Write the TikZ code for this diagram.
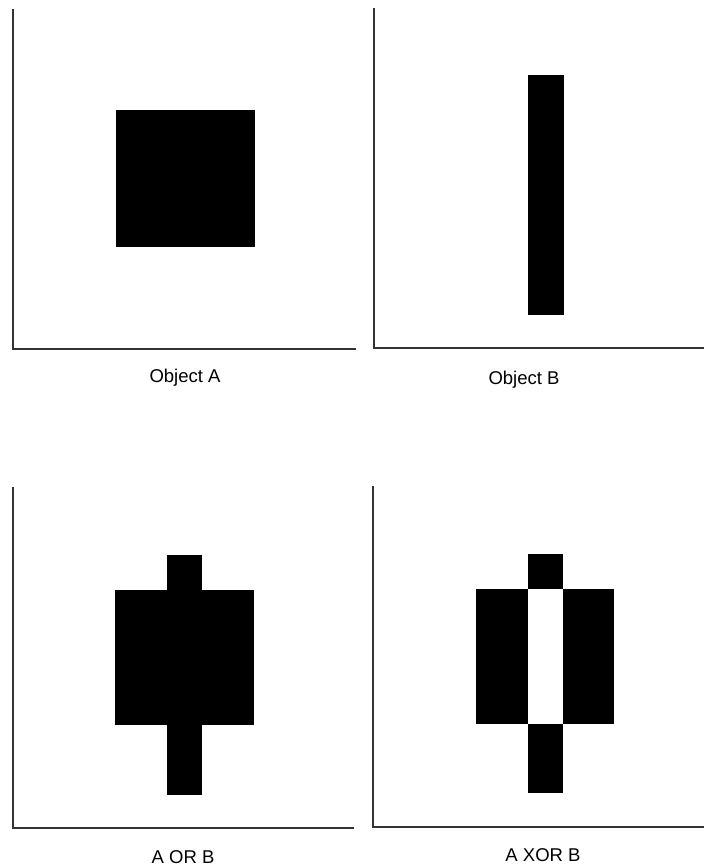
\documentclass[tikz,border=0pt]{standalone}
\usepackage{fontspec}
\setmainfont{Liberation Sans}
\usetikzlibrary{positioning}

\tikzset{
  axe/.style={line width=1.2pt,black!80},
  plein/.style={fill=black},
  legende/.style={font=\fontsize{18.5}{22}\selectfont,inner sep=0pt}
}

\begin{document}
\begin{tikzpicture}[x=1pt,y=-1pt]

  \useasboundingbox (0,0) rectangle (704,866);

  % axes des quatre cadres
  \foreach \x/\y/\b/\r in {13/9/349/356,374/8/348/704,13/487/828/354,373/486/827/704}
    \draw[axe] (\x,\y) -- (\x,\b) -- (\r,\b);

  % objet A
  \fill[plein] (115.5,110) rectangle (254.5,247.5);
  \node[legende] (objA) at (185,378) {Object A};

  % objet B
  \fill[plein] (528,75) rectangle (563.5,315);
  \node[legende] (objB) at (524,380) {Object B};

  % A OR B
  \fill[plein] (166.5,555) rectangle (201.5,589.5);
  \fill[plein] (115,589.5) rectangle (253.5,724.5);
  \fill[plein] (166.5,724.5) rectangle (201.5,795);
  \node[legende] (ou) at (183,857) {A OR B};

  % A XOR B
  \fill[plein] (528,554) rectangle (562.5,588.5);
  \fill[plein] (475.5,588.5) rectangle (528,723.5);
  \fill[plein] (562.5,588.5) rectangle (614,723.5);
  \fill[plein] (528,723.5) rectangle (562.5,792.5);
  \node[legende] (oux) at (543,855) {A XOR B};

\end{tikzpicture}
\end{document}
